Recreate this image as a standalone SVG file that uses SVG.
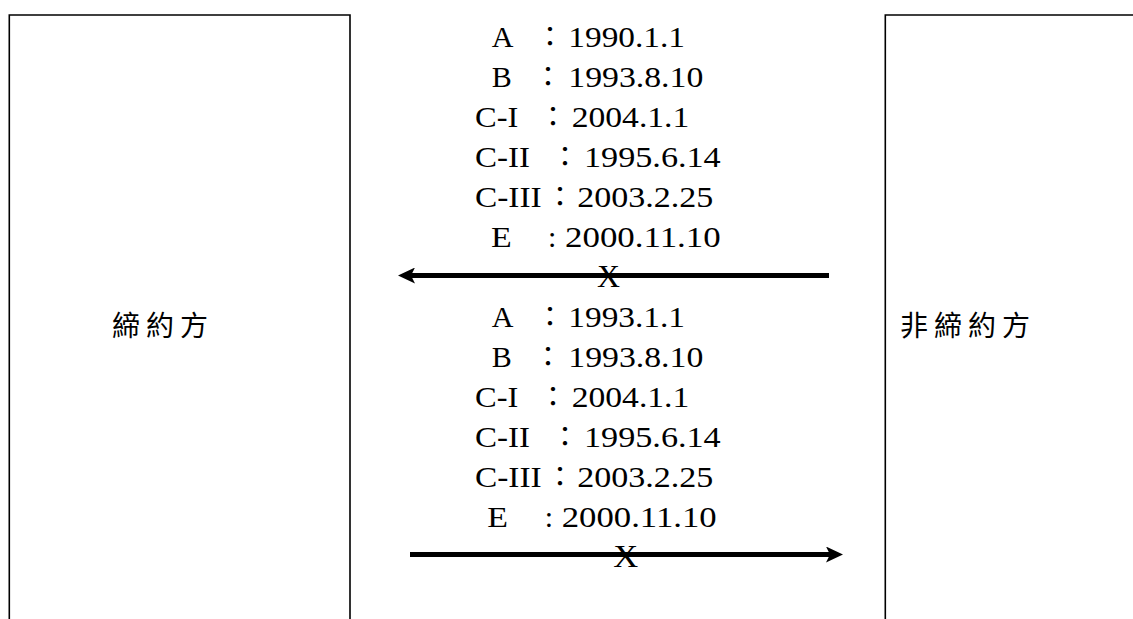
<svg xmlns="http://www.w3.org/2000/svg" width="1133" height="619" viewBox="0 0 1133 619">
<style>
.box{fill:none;stroke:#000;stroke-width:1.6}
.t{font-family:"Liberation Serif","Times New Roman",serif;font-size:30px;fill:#000}
.c{font-family:"Noto Sans CJK TC","Noto Sans CJK JP",sans-serif;font-size:28px;fill:#000;text-anchor:middle}
.cjk{font-family:"Noto Sans CJK TC","Noto Sans CJK JP",sans-serif;font-size:28px;letter-spacing:6px;fill:#000;dominant-baseline:central}
.x{font-family:"Liberation Serif","Times New Roman",serif;font-size:32px;fill:#000}
.arr{stroke:#000;stroke-width:5;fill:none}
</style>
<defs>
<marker id="ah" markerUnits="userSpaceOnUse" markerWidth="17" markerHeight="16" refX="4" refY="8" orient="auto" viewBox="0 0 17 16">
<path d="M0,0 L17,8 L0,16 L4,8 Z" fill="#000"/>
</marker>
</defs>
<g id="party">
<path class="box" d="M9.3,625 V15 H350 V625"/>
<text class="cjk" x="112" y="324">締約方</text>
</g>
<g id="nonparty">
<path class="box" d="M885.3,625 V15 H1140"/>
<text class="cjk" x="900" y="324">非締約方</text>
</g>
<g id="dates-top">
<text class="t" x="491.7" y="46.7" textLength="21.7" lengthAdjust="spacingAndGlyphs">A</text>
<text class="c" x="550" y="46.7">：</text>
<text class="t" x="568.3" y="46.7" textLength="116.7" lengthAdjust="spacingAndGlyphs">1990.1.1</text>
<text class="t" x="491.7" y="86.7" textLength="20" lengthAdjust="spacingAndGlyphs">B</text>
<text class="c" x="548" y="86.7">：</text>
<text class="t" x="568.3" y="86.7" textLength="135" lengthAdjust="spacingAndGlyphs">1993.8.10</text>
<text class="t" x="475" y="126.7" textLength="43.3" lengthAdjust="spacingAndGlyphs">C-I</text>
<text class="c" x="553" y="126.7">：</text>
<text class="t" x="571.7" y="126.7" textLength="117.6" lengthAdjust="spacingAndGlyphs">2004.1.1</text>
<text class="t" x="475" y="166.7" textLength="55" lengthAdjust="spacingAndGlyphs">C-II</text>
<text class="c" x="565" y="166.7">：</text>
<text class="t" x="584" y="166.7" textLength="136.7" lengthAdjust="spacingAndGlyphs">1995.6.14</text>
<text class="t" x="475" y="206.7" textLength="66.7" lengthAdjust="spacingAndGlyphs">C-III</text>
<text class="c" x="560" y="206.7">：</text>
<text class="t" x="577.3" y="206.7" textLength="136" lengthAdjust="spacingAndGlyphs">2003.2.25</text>
<text class="t" x="491" y="246.7" textLength="20.7" lengthAdjust="spacingAndGlyphs">E</text>
<text class="t" x="548" y="246.7">:</text>
<text class="t" x="565" y="246.7" textLength="155.7" lengthAdjust="spacingAndGlyphs">2000.11.10</text>
</g>
<g id="dates-bottom">
<text class="t" x="491.7" y="326.7" textLength="21.7" lengthAdjust="spacingAndGlyphs">A</text>
<text class="c" x="550" y="326.7">：</text>
<text class="t" x="568.3" y="326.7" textLength="116.7" lengthAdjust="spacingAndGlyphs">1993.1.1</text>
<text class="t" x="491.7" y="366.7" textLength="20" lengthAdjust="spacingAndGlyphs">B</text>
<text class="c" x="548" y="366.7">：</text>
<text class="t" x="568.3" y="366.7" textLength="135" lengthAdjust="spacingAndGlyphs">1993.8.10</text>
<text class="t" x="475" y="406.7" textLength="43.3" lengthAdjust="spacingAndGlyphs">C-I</text>
<text class="c" x="553" y="406.7">：</text>
<text class="t" x="571.7" y="406.7" textLength="117.6" lengthAdjust="spacingAndGlyphs">2004.1.1</text>
<text class="t" x="475" y="446.7" textLength="55" lengthAdjust="spacingAndGlyphs">C-II</text>
<text class="c" x="565" y="446.7">：</text>
<text class="t" x="584" y="446.7" textLength="136.7" lengthAdjust="spacingAndGlyphs">1995.6.14</text>
<text class="t" x="475" y="486.7" textLength="66.7" lengthAdjust="spacingAndGlyphs">C-III</text>
<text class="c" x="560" y="486.7">：</text>
<text class="t" x="577.3" y="486.7" textLength="136" lengthAdjust="spacingAndGlyphs">2003.2.25</text>
<text class="t" x="487.3" y="526.7" textLength="20.7" lengthAdjust="spacingAndGlyphs">E</text>
<text class="t" x="544.7" y="526.7">:</text>
<text class="t" x="561.7" y="526.7" textLength="155" lengthAdjust="spacingAndGlyphs">2000.11.10</text>
</g>
<g id="connectors">
<line class="arr" x1="829" y1="275.5" x2="411" y2="275.5" marker-end="url(#ah)"/>
<text class="x" x="597" y="286.7" textLength="23" lengthAdjust="spacingAndGlyphs">X</text>
<line class="arr" x1="410" y1="554.5" x2="830" y2="554.5" marker-end="url(#ah)"/>
<text class="x" x="613.3" y="566.7" textLength="25" lengthAdjust="spacingAndGlyphs">X</text>
</g>
</svg>
